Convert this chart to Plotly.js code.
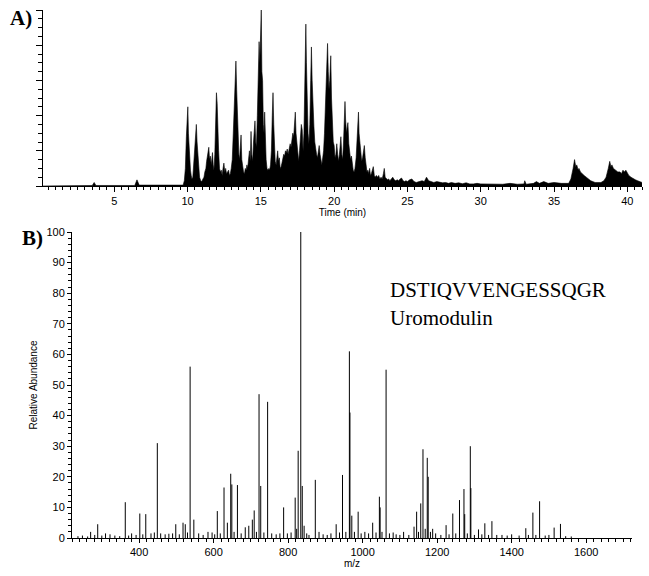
<!DOCTYPE html>
<html>
<head>
<meta charset="utf-8">
<script src="https://cdn.plot.ly/plotly-3.0.1.min.js"></script>
<style>
  body { margin: 0; background: #fff; }
  #plot { width: 649px; height: 576px; }
</style>
</head>
<body>
<div id="plot"></div>
<script>
// A) chromatogram: [retention time (min), relative intensity (%)]
var chromPoints = [
  [0.14, 0], [3.5, 0.3], [3.63, 2], [3.75, 0.3], [6.4, 0.3], [6.55, 3.5], [6.7, 0.5], [9.7, 0.5],
  [9.78, 3], [9.85, 10], [9.92, 28], [9.97, 38], [10.02, 45], [10.06, 30], [10.1, 22], [10.15, 12], [10.2, 9],
  [10.25, 6], [10.3, 4], [10.36, 5], [10.42, 14], [10.48, 22], [10.55, 30], [10.6, 35], [10.65, 25], [10.7, 18],
  [10.75, 10], [10.82, 5], [10.9, 3], [10.97, 2.5],
  [11.05, 4], [11.12, 5], [11.18, 8], [11.25, 10], [11.3, 14], [11.38, 20], [11.45, 22], [11.5, 15], [11.55, 17],
  [11.62, 12], [11.7, 19], [11.75, 12], [11.8, 9], [11.86, 18], [11.92, 40], [11.97, 53], [12.02, 47], [12.07, 30],
  [12.12, 20], [12.18, 10], [12.24, 8], [12.3, 9], [12.36, 6], [12.42, 10], [12.48, 13], [12.54, 8], [12.6, 10],
  [12.66, 7], [12.72, 8], [12.8, 9], [12.86, 6], [12.92, 7], [12.98, 10],
  [13.05, 15], [13.12, 30], [13.18, 45], [13.24, 60], [13.3, 71], [13.35, 55], [13.4, 41], [13.45, 25], [13.5, 18],
  [13.55, 15], [13.6, 24], [13.65, 29], [13.7, 15], [13.76, 10], [13.82, 8], [13.88, 7], [13.94, 10], [14.0, 9],
  [14.05, 12], [14.1, 10], [14.16, 16], [14.22, 20], [14.28, 14], [14.33, 31], [14.38, 18], [14.44, 14], [14.5, 25],
  [14.56, 30], [14.6, 37], [14.65, 25], [14.7, 22], [14.76, 40], [14.82, 55], [14.88, 82], [14.93, 70], [14.98, 95],
  [15.03, 100], [15.07, 65], [15.12, 60], [15.17, 35], [15.22, 30], [15.26, 42], [15.31, 25], [15.36, 15], [15.42, 10],
  [15.48, 9], [15.55, 10], [15.6, 9], [15.66, 12], [15.72, 20], [15.78, 40], [15.83, 53], [15.88, 35], [15.93, 20],
  [15.98, 14], [16.04, 12], [16.1, 18], [16.15, 20], [16.2, 14], [16.26, 16], [16.32, 10], [16.38, 11], [16.44, 13],
  [16.5, 16], [16.56, 18], [16.62, 17], [16.68, 20], [16.74, 19], [16.8, 21], [16.86, 18], [16.94, 21], [17.0, 24],
  [17.06, 22], [17.12, 26], [17.18, 30], [17.24, 28], [17.3, 38], [17.35, 42], [17.4, 30], [17.46, 25], [17.52, 18],
  [17.58, 14], [17.64, 20], [17.7, 28], [17.76, 35], [17.82, 32], [17.88, 20], [17.94, 30], [18.0, 55], [18.04, 80],
  [18.07, 92], [18.11, 70], [18.16, 50], [18.22, 30], [18.28, 24], [18.34, 35], [18.4, 60], [18.45, 79], [18.5, 60],
  [18.56, 38], [18.62, 34], [18.68, 25], [18.74, 20], [18.8, 18], [18.86, 16], [18.92, 20], [18.98, 23], [19.04, 18],
  [19.1, 14], [19.16, 12], [19.22, 16], [19.28, 20], [19.34, 30], [19.4, 45], [19.45, 60], [19.5, 75], [19.55, 81],
  [19.6, 65], [19.65, 55], [19.7, 60], [19.74, 70], [19.77, 74], [19.82, 50], [19.88, 30], [19.94, 25], [20.0, 23],
  [20.06, 16], [20.12, 18], [20.18, 24], [20.24, 18], [20.3, 14], [20.36, 18], [20.42, 26], [20.46, 28], [20.52, 18],
  [20.58, 15], [20.64, 25], [20.7, 42], [20.74, 48], [20.78, 38], [20.84, 30], [20.9, 34], [20.94, 36], [21.0, 24],
  [21.06, 18], [21.12, 15], [21.18, 17], [21.24, 12], [21.3, 9], [21.36, 8], [21.42, 10], [21.5, 16], [21.56, 28],
  [21.62, 38], [21.66, 42], [21.7, 30], [21.76, 25], [21.82, 18], [21.88, 14], [21.94, 16], [22.0, 20], [22.06, 23],
  [22.12, 16], [22.18, 10], [22.24, 8], [22.3, 9], [22.36, 7], [22.42, 10], [22.48, 6], [22.54, 7], [22.6, 9],
  [22.67, 11], [22.74, 6], [22.8, 5], [22.88, 6], [22.96, 5], [23.04, 6], [23.12, 4], [23.2, 5], [23.28, 4],
  [23.36, 7], [23.42, 10], [23.48, 5], [23.56, 4], [23.64, 3.5], [23.72, 4], [23.8, 3], [23.9, 4], [24.0, 5],
  [24.1, 3.5], [24.2, 3], [24.3, 3.5], [24.4, 3], [24.5, 4], [24.6, 4.5], [24.7, 3], [24.8, 2.5], [24.9, 3],
  [25.0, 2.5], [25.15, 3.5], [25.3, 4], [25.45, 2.5], [25.6, 2], [25.8, 2.5], [26.0, 3], [26.15, 2.5], [26.3, 5],
  [26.45, 3], [26.6, 2.5], [26.8, 2], [27.0, 2.5], [27.2, 2], [27.4, 1.8], [27.6, 2], [27.8, 1.5], [28.0, 2],
  [28.25, 1.5], [28.5, 1.8], [28.75, 1.3], [29.0, 1.8], [29.25, 1.2], [29.5, 1.2], [29.75, 1.5], [30.0, 1.2],
  [30.5, 1], [31.0, 1.2], [31.5, 1], [32.0, 1.5], [32.5, 1], [32.95, 1.2], [33.0, 3], [33.1, 1], [33.6, 1.5],
  [33.8, 2.5], [34.0, 1.5], [34.3, 2.5], [34.6, 1.5], [35.0, 2], [35.5, 1.5], [36.0, 1.5], [36.15, 4], [36.3, 10],
  [36.4, 15], [36.48, 11], [36.55, 12], [36.65, 9], [36.7, 10], [36.8, 8], [36.9, 7], [37.05, 6], [37.2, 5],
  [37.35, 4], [37.5, 3], [37.8, 2], [38.2, 2], [38.4, 3], [38.55, 5], [38.7, 10], [38.8, 14], [38.88, 11],
  [38.95, 12], [39.05, 10], [39.2, 9], [39.35, 8], [39.5, 8], [39.6, 7], [39.7, 9], [39.8, 8], [39.9, 9],
  [40.0, 7], [40.1, 6], [40.25, 5], [40.4, 4], [40.55, 3.5], [40.7, 3], [40.85, 2.5], [41.0, 2]
];
var chromTime = chromPoints.map(function (p) { return p[0]; });
var chromIntensity = chromPoints.map(function (p) { return p[1]; });

// B) MS/MS spectrum: m/z vs relative abundance (%)
var mzValues = [236, 248, 262, 270, 281, 289, 300, 310, 322, 335, 348, 363, 372, 380, 392, 402, 410, 418, 432, 441, 449, 458,
  470, 480, 490, 498.5, 508, 518, 524, 530, 537, 547, 560, 572, 585, 596, 603, 610, 618, 628, 637, 646, 649, 655, 664, 674,
  685, 694.5, 704, 709, 715, 722, 726.5, 735, 745, 756, 768, 778, 788, 798, 808, 819, 823, 827, 834, 838, 843, 850, 856,
  873, 883, 894, 905, 915, 929, 938, 946, 955, 964.5, 966, 971, 978, 988, 996, 1006, 1016, 1027, 1036, 1045, 1047, 1052,
  1063, 1072, 1082, 1090, 1100, 1110, 1124, 1138, 1145, 1150, 1156, 1162, 1168, 1173.5, 1176, 1182, 1188, 1196, 1210,
  1224, 1232, 1242, 1250, 1260, 1272, 1274, 1281, 1289, 1290.5, 1300, 1311, 1320, 1328, 1338, 1347, 1360, 1374, 1388,
  1400, 1420, 1438, 1445, 1457, 1465, 1475, 1490, 1500, 1514, 1531, 1545, 1560];
var mzIntensity = [0.6, 0.8, 0.5, 2, 1, 4.5, 0.8, 1.5, 1.2, 0.8, 0.6, 11.7, 0.8, 1.5, 1, 8, 1.2, 7.8, 1.5, 1.8, 31, 1.5,
  1.2, 1.4, 1.5, 4.5, 1.2, 5, 4.5, 1.8, 56, 6, 1.5, 1, 2, 1.8, 1.2, 8.8, 1.5, 16.5, 5, 21, 17.5, 2, 17.3, 1.5,
  3.5, 4, 6, 9, 2, 47, 17, 1.8, 44.5, 1.5, 1.2, 1.5, 10, 1.5, 1.8, 13.2, 3, 28.5, 100, 17, 4, 1.5, 1,
  19, 2, 1.2, 1, 1.5, 4.5, 1.8, 20.6, 2, 61, 41, 7.3, 2, 8.6, 1.5, 2, 1.5, 5, 1.8, 13.5, 10, 2,
  55, 1.5, 1.8, 1.2, 1, 2, 1, 3.7, 8.6, 2, 11.3, 29, 3, 26.2, 20, 2, 3, 1.5, 1,
  4.2, 1.2, 8, 1.5, 12.4, 16, 7.8, 1.5, 30, 16.3, 1, 2.8, 1.2, 4.8, 1, 5.5, 1, 1, 0.8,
  1.2, 0.8, 3.2, 1, 8.3, 1, 12, 0.8, 1, 3.4, 4.6, 0.6, 0.5];

var peptide = 'DSTIQVVENGESSQGR';
var protein = 'Uromodulin';

// stick spectrum: one vertical segment per peak
var stickX = [], stickY = [];
for (var i = 0; i < mzValues.length; i++) {
  stickX.push(mzValues[i], mzValues[i], null);
  stickY.push(0, mzIntensity[i], null);
}

var W = 649, H = 576;
function px(x) { return x / W; }
function py(y) { return 1 - y / H; }

var data = [
  {
    x: chromTime, y: chromIntensity,
    type: 'scatter', mode: 'lines',
    line: {color: '#000', width: 0.6},
    fill: 'tozeroy', fillcolor: '#000',
    xaxis: 'x', yaxis: 'y',
    hoverinfo: 'x+y'
  },
  {
    x: stickX, y: stickY,
    type: 'scatter', mode: 'lines',
    line: {color: '#000', width: 1},
    connectgaps: false,
    xaxis: 'x2', yaxis: 'y2',
    hoverinfo: 'x+y'
  }
];

var tickFont = {family: 'Liberation Sans, Arial, sans-serif', size: 11, color: '#000'};
var serif = 'Liberation Serif, Times New Roman, serif';

var layout = {
  width: W, height: H,
  margin: {l: 0, r: 0, t: 0, b: 0},
  paper_bgcolor: '#fff', plot_bgcolor: '#fff',
  showlegend: false,
  xaxis: {
    domain: [px(43), px(642)],
    anchor: 'y',
    range: [0.14, 41],
    showgrid: false, zeroline: false,
    showline: true, linecolor: '#000', linewidth: 1,
    ticks: 'outside', ticklen: 5, tickcolor: '#000', tickwidth: 1,
    tick0: 0, dtick: 5,
    minor: {ticks: 'outside', ticklen: 3, dtick: 0.5, tickcolor: '#000', showgrid: false},
    tickfont: tickFont,
    title: {text: 'Time (min)', font: {family: tickFont.family, size: 10, color: '#000'}, standoff: 2}
  },
  yaxis: {
    domain: [py(186), py(10)],
    anchor: 'x',
    range: [0, 100],
    showgrid: false, zeroline: false,
    showline: true, linecolor: '#000', linewidth: 1,
    ticks: 'outside', ticklen: 6, tickcolor: '#000',
    tick0: 0, dtick: 20,
    minor: {ticks: 'outside', ticklen: 4, dtick: 5, tickcolor: '#000', showgrid: false},
    showticklabels: false
  },
  xaxis2: {
    domain: [px(72), px(632)],
    anchor: 'y2',
    range: [220, 1723],
    showgrid: false, zeroline: false,
    showline: true, linecolor: '#000', linewidth: 1,
    ticks: 'outside', ticklen: 4, tickcolor: '#000',
    tick0: 0, dtick: 200,
    minor: {ticks: 'outside', ticklen: 3, dtick: 20, tickcolor: '#000', showgrid: false},
    tickfont: tickFont,
    title: {text: 'm/z', font: {family: tickFont.family, size: 10, color: '#000'}, standoff: 2}
  },
  yaxis2: {
    domain: [py(538), py(232)],
    anchor: 'x2',
    range: [0, 100],
    showgrid: false, zeroline: false,
    showline: true, linecolor: '#000', linewidth: 1,
    ticks: 'outside', ticklen: 4, tickcolor: '#000',
    tick0: 0, dtick: 10,
    minor: {ticks: 'outside', ticklen: 3, dtick: 2, tickcolor: '#000', showgrid: false},
    tickfont: tickFont,
    title: {text: 'Relative Abundance', font: {family: tickFont.family, size: 10, color: '#000'}, standoff: 6}
  },
  annotations: [
    {text: '<b>A)</b>', xref: 'paper', yref: 'paper', x: px(8), y: py(18), xanchor: 'left', yanchor: 'middle',
     showarrow: false, font: {family: serif, size: 21, color: '#000'}},
    {text: '<b>B)</b>', xref: 'paper', yref: 'paper', x: px(20), y: py(238), xanchor: 'left', yanchor: 'middle',
     showarrow: false, font: {family: serif, size: 21, color: '#000'}},
    {text: peptide, xref: 'paper', yref: 'paper', x: px(388), y: py(290), xanchor: 'left', yanchor: 'middle',
     showarrow: false, font: {family: serif, size: 21, color: '#000'}},
    {text: protein, xref: 'paper', yref: 'paper', x: px(388), y: py(318), xanchor: 'left', yanchor: 'middle',
     showarrow: false, font: {family: serif, size: 21, color: '#000'}}
  ]
};

Plotly.newPlot('plot', data, layout, {displayModeBar: false, staticPlot: true});
</script>
</body>
</html>
